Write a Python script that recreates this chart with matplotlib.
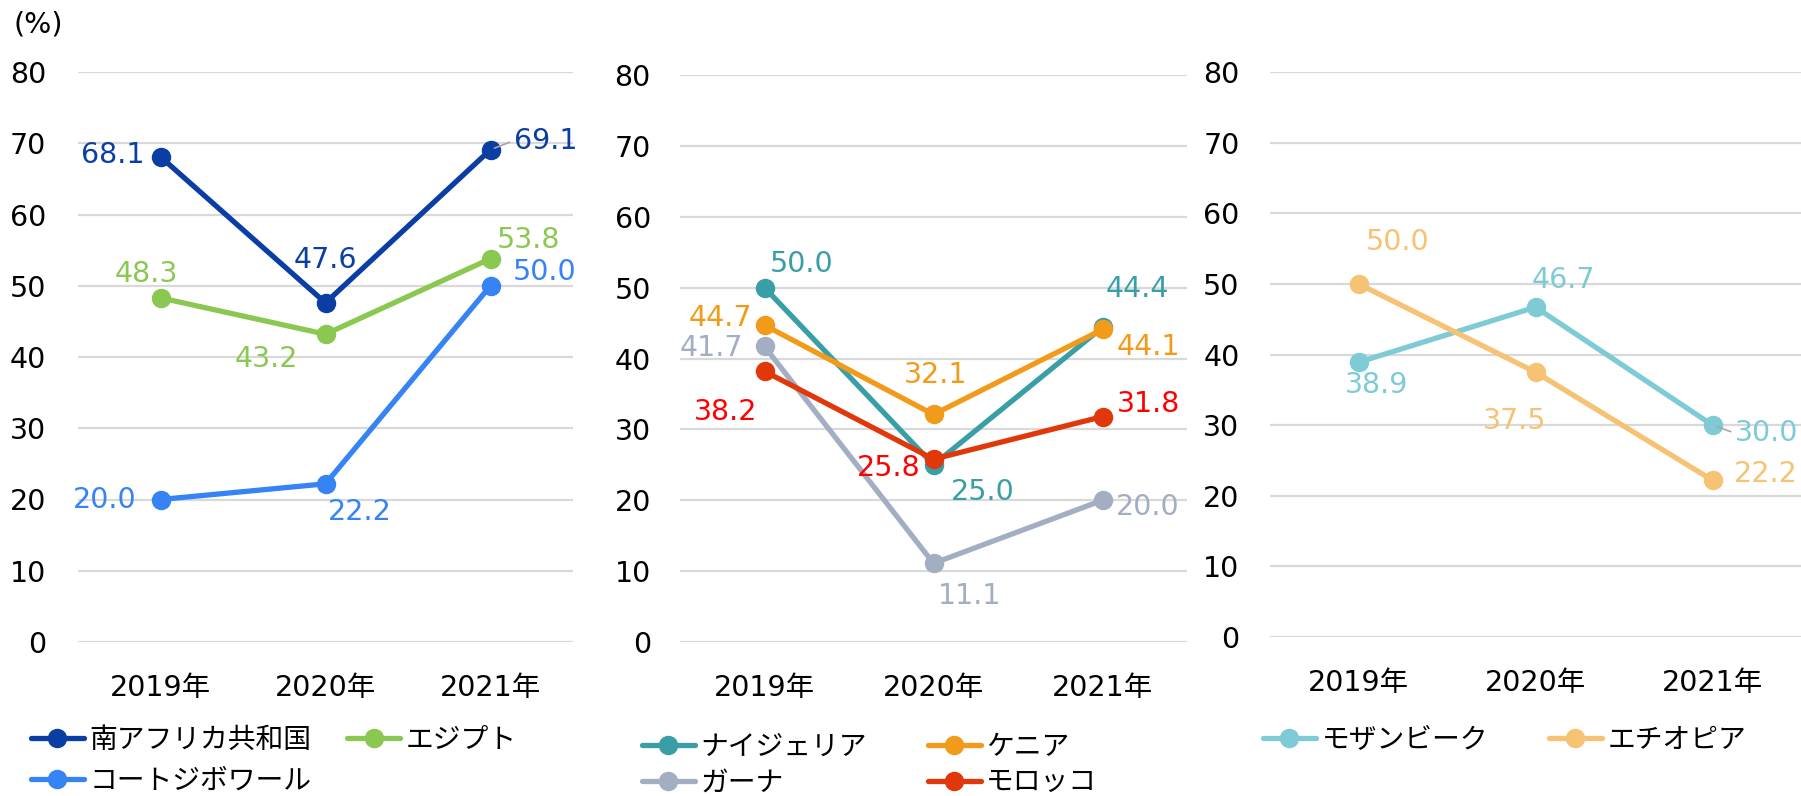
import matplotlib
matplotlib.use("Agg")
import matplotlib.pyplot as plt

# DejaVu for the wide digits, Noto CJK for the Japanese
plt.rcParams['font.family'] = ['DejaVu Sans', 'Noto Sans CJK JP']

years = ['2019年', '2020年', '2021年']

# panel 1
south_africa = [68.1, 47.6, 69.1]
egypt = [48.3, 43.2, 53.8]
cote_divoire = [20.0, 22.2, 50.0]
# panel 2
nigeria = [50.0, 25.0, 44.4]
kenya = [44.7, 32.1, 44.1]
ghana = [41.7, 11.1, 20.0]
morocco = [38.2, 25.8, 31.8]
# panel 3
mozambique = [38.9, 46.7, 30.0]
ethiopia = [50.0, 37.5, 22.2]

W, H = 1801, 796
fig = plt.figure(figsize=(W / 100, H / 100), dpi=100)

def px_axes(left, right, y0, y80):
    return fig.add_axes([left / W, 1 - y0 / H, (right - left) / W, (y0 - y80) / H])

FS = 20.5
GRID = '#D9D9D9'

def setup(ax, pad=23, xpad=23):
    ax.set_ylim(0, 80)
    ax.set_xlim(-0.5, 2.5)
    ax.set_yticks(range(0, 81, 10))
    ax.set_xticks(range(3))
    ax.set_xticklabels(years)
    ax.tick_params(axis='y', length=0, pad=pad, labelsize=FS)
    ax.tick_params(axis='x', length=0, pad=xpad, labelsize=FS)
    for s in ax.spines.values():
        s.set_visible(False)
    ax.grid(axis='y', color=GRID, lw=1.6)
    ax.set_axisbelow(True)

def draw(ax, vals, color, name, offsets, label_color=None, leader=None):
    x = range(len(vals))
    ax.plot(x, vals, color=color, lw=3.8, marker='o', ms=13, label=name,
            solid_capstyle='round', zorder=3)
    lc = label_color or color
    for i, (v, off) in enumerate(zip(vals, offsets)):
        kw = {}
        if leader == i:
            kw['arrowprops'] = dict(arrowstyle='-', color='#A6A6A6', lw=1.2,
                                    shrinkA=1, shrinkB=3, relpos=(0, 0.5))
        ax.annotate(f'{v:.1f}', (i, v), xytext=off, textcoords='offset pixels',
                    ha='center', va='center', color=lc, fontsize=FS, **kw)

def legend(ax, order, x, y, colspace, rowspace):
    handles, labels = ax.get_legend_handles_labels()
    # legend fills column-wise, reorder so it reads row-wise
    handles = [handles[i] for i in order]
    labels = [labels[i] for i in order]
    ax.legend(handles, labels, ncol=2, loc='upper left',
              bbox_to_anchor=(x / W, 1 - y / H), bbox_transform=fig.transFigure,
              frameon=False, fontsize=20, handlelength=1.9, handletextpad=0.2,
              columnspacing=colspace, labelspacing=rowspace, borderpad=0,
              borderaxespad=0)

# ---- panel 1
ax1 = px_axes(78, 573, 642, 72)
setup(ax1, pad=23)
draw(ax1, south_africa, '#0A3EA3', '南アフリカ共和国', [(-48, 2), (0, 43), (55, 9)], leader=2)
draw(ax1, egypt, '#8AC851', 'エジプト', [(-14, 24), (-59, -25), (38, 19)])
draw(ax1, cote_divoire, '#3583F5', 'コートジボワール', [(-56, 0), (34, -28), (54, 14)])
legend(ax1, [0, 2, 1], 31, 726, 1.3, 0.46)
fig.text(13 / W, 1 - 25 / H, '(%)', fontsize=FS, va='center', ha='left')

# ---- panel 2
ax2 = px_axes(680, 1187, 642, 75)
setup(ax2, pad=21)
draw(ax2, nigeria, '#3A9EA6', 'ナイジェリア', [(37, 24), (49, -27), (35, 38)])
draw(ax2, kenya, '#F29B1B', 'ケニア', [(-44, 7), (2, 39), (46, -18)])
draw(ax2, ghana, '#A3AEC2', 'ガーナ', [(-53, -2), (36, -33), (45, -7)])
draw(ax2, morocco, '#E0380B', 'モロッコ', [(-39, -41), (-45, -9), (46, 13)], label_color='#FF0000')
legend(ax2, [0, 2, 1, 3], 642, 733, 2.2, 0.26)

# ---- panel 3 (cut off at the right edge of the figure)
ax3 = px_axes(1270, 1801, 637, 72)
setup(ax3, pad=22)
draw(ax3, mozambique, '#7ECBD5', 'モザンビーク', [(18, -23), (28, 27), (54, -8)], leader=2)
draw(ax3, ethiopia, '#F6C274', 'エチオピア', [(39, 42), (-21, -49), (53, 6)])
legend(ax3, [0, 1], 1263, 726, 2.2, 0.25)

fig.savefig('out.png', dpi=100)
